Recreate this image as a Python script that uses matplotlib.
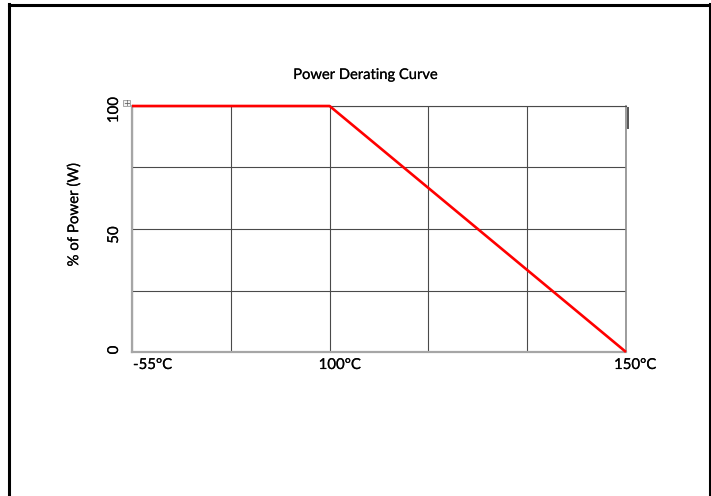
import numpy as np
import matplotlib
matplotlib.use("Agg")
import matplotlib.pyplot as plt
from matplotlib.lines import Line2D
from matplotlib.patches import Rectangle
import matplotlib.transforms as mtrans
import matplotlib.patheffects as pe

# ---- data ----
temps = [-55, 100, 150]          # °C
power = [100, 100, 0]            # % of power
x_tick_labels = ["-55°C", "100°C", "150°C"]
y_ticks = [0, 50, 100]
y_tick_labels = ["0", "50", "100"]
title = "Power Derating Curve"
ylabel = "% of Power (W)"

# axis layout: 5 equal columns, -55 at column 0, 100 at column 2, 150 at column 5
col_temps = [-55, 100, 150]
col_pos = [0, 2, 5]

def fwd(t):
    return np.interp(t, col_temps, col_pos)

def inv(p):
    return np.interp(p, col_pos, col_temps)

plt.rcParams['font.family'] = ['Lato', 'DejaVu Sans']

W, H = 711, 496
fig = plt.figure(figsize=(W / 100, H / 100), dpi=100)
ax = fig.add_axes([132 / W, 1 - 352 / H, (626 - 132) / W, (352 - 106) / H])

ax.set_xscale('function', functions=(fwd, inv))
ax.set_xlim(temps[0], temps[-1])
ax.set_ylim(0, 100)

ax.plot(temps, power, color='#ff0000', lw=1.9, clip_on=False, zorder=5,
        solid_capstyle='butt')

# grid
ax.set_xticks(temps)
ax.set_xticks(inv(np.array([1, 3, 4])), minor=True)
ax.set_yticks(y_ticks)
ax.set_yticks([25, 75], minor=True)
ax.grid(True, which='both', color='#4a4a4a', lw=0.8)
ax.set_axisbelow(True)
ax.tick_params(which='both', length=0)

FS = 10.8
bold_fx = [pe.withStroke(linewidth=0.12, foreground='black')]

# x tick labels (left-aligned, individual offsets)
ax.set_xticklabels([])
x_offsets = [1, -11, -12]
for t, lab, off in zip(temps, x_tick_labels, x_offsets):
    tr = ax.get_xaxis_transform() + mtrans.ScaledTranslation(off / 100, -6 / 100, fig.dpi_scale_trans)
    ax.text(t, 0, lab, transform=tr, ha='left', va='top', fontsize=FS, path_effects=bold_fx)

# y tick labels
ax.set_yticklabels([])
y_offsets = [2, -6, -4]
for v, lab, off in zip(y_ticks, y_tick_labels, y_offsets):
    tr = ax.get_yaxis_transform() + mtrans.ScaledTranslation(-18 / 100, off / 100, fig.dpi_scale_trans)
    ax.text(0, v, lab, transform=tr, ha='center', va='center', rotation=90, fontsize=FS,
            path_effects=bold_fx)

# spines
for s in ['left', 'bottom']:
    ax.spines[s].set_color('#a6a6a6')
    ax.spines[s].set_linewidth(1.6)
ax.spines['right'].set_color('#8c8c8c')
ax.spines['right'].set_linewidth(1.2)
ax.spines['top'].set_color('#4a4a4a')
ax.spines['top'].set_linewidth(0.8)

fig.text(366 / W, 1 - 79 / H, title, ha='center', va='baseline', fontsize=10.6,
         path_effects=bold_fx)
fig.text(74 / W, 1 - 215 / H, ylabel, rotation=90, ha='center', va='center', fontsize=FS,
         path_effects=bold_fx)

# page frame
def px_line(x0, y0, x1, y1, lw, color='black'):
    fig.add_artist(Line2D([x0 / W, x1 / W], [1 - y0 / H, 1 - y1 / H],
                          transform=fig.transFigure, color=color, lw=lw))

px_line(8.5, 5, 711, 5, 2.2)
px_line(8.5, 4, 8.5, 496, 2.2)
px_line(709.5, 4, 709.5, 496, 2.2)
px_line(627.5, 108, 627.5, 128, 1.4, color='#555555')

# small table handle
fig.add_artist(Rectangle((123 / W, 1 - 106 / H), 7 / W, 6 / H, transform=fig.transFigure,
                         facecolor='#f2f2f2', edgecolor='#9a9a9a', lw=0.6))
fig.text(126.5 / W, 1 - 103 / H, '+', ha='center', va='center', fontsize=6, color='#555555',
         family='DejaVu Sans')

fig.savefig('out.png', dpi=100)
